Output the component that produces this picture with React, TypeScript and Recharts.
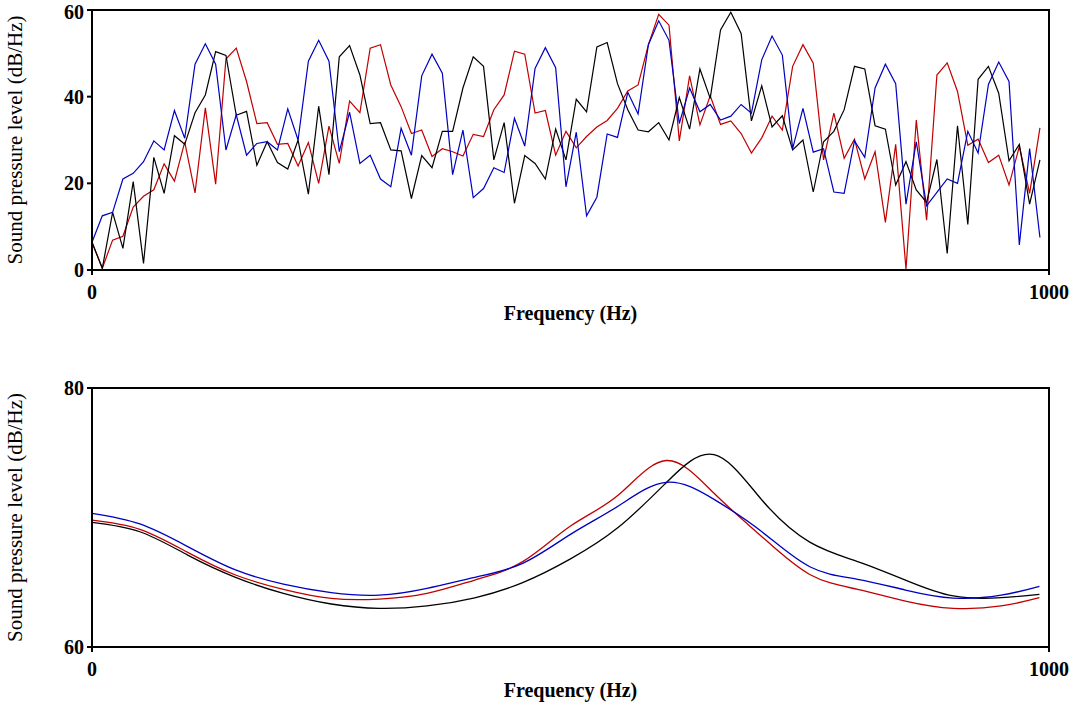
import { LineChart, Line, XAxis, YAxis, ReferenceArea, Label } from 'recharts';

const FONT = '"Liberation Serif", "Times New Roman", serif';
const BLACK = '#000000';
const RED = '#c00000';
const BLUE = '#0000c0';

// FFT bin spacing of the spectra (44.1 kHz / 4096)
const BIN_HZ = 44100 / 4096;

// top panel: raw spectra, one value per bin
const spectrumBlack = [
  6.4, 0.4, 13.3, 5, 20.4, 1.5, 26, 17.7, 31, 29, 36.3, 40.4, 50.4, 49.5, 35.7, 36.6,
  24.2, 29.6, 24.8, 23.3, 30, 17.5, 37.8, 22, 49.2, 51.8, 45, 33.8, 34, 27.7, 27.5,
  16.5, 26.4, 23.6, 32, 32, 42, 49.2, 47, 25.4, 34, 15.4, 26.4, 24.6, 21, 32.5, 25.4,
  39.4, 36.5, 51.5, 52.5, 43, 37, 32.3, 31.9, 34, 30, 39.8, 32.5, 46.4, 39.6, 55.4,
  59.5, 54.6, 34.4, 42.5, 33, 35.6, 27.7, 30, 18, 29.6, 32, 37, 47, 46.4, 33.3, 32.5,
  19.6, 25, 18.5, 15.6, 25.5, 3.8, 33.3, 10.5, 44, 47, 40.8, 25.2, 29, 15.2, 25.4,
];
const spectrumRed = [
  6.4, 0.4, 6.9, 7.8, 14.5, 17, 18.5, 24.5, 20.5, 29.5, 17.8, 37.4, 19.8, 48.7, 51.2, 43.5,
  33.8, 34, 29, 29.2, 24, 29.4, 20, 33.2, 24.6, 39, 36.3, 51.2, 52, 42.7, 37.7,
  31.5, 32.3, 26.2, 28, 27.3, 26.3, 31.3, 30.8, 37, 40.4, 50.5, 49.8, 36.2, 36.8, 26.5, 32,
  28.2, 30.8, 33, 34.5, 37.3, 41.3, 42.7, 52, 59, 56.5, 29.8, 44.8, 33.5, 40.2, 33.6,
  34.4, 31.5, 27, 30.5, 35.5, 32.3, 47, 52, 47.7, 25.4, 36.2, 25.8, 30.2, 21, 27.3, 11,
  29, 0.2, 34.6, 11.5, 45, 47.8, 41.2, 28.8, 30.2, 24.8, 26.5, 19.6, 28.5, 17.7, 32.8,
];
const spectrumBlue = [
  6.4, 12.5, 13.3, 21, 22.3, 25, 29.8, 27.7, 36.8, 30.4, 47.5, 52.2, 47.5, 27.7, 35.8, 26.5,
  29.2, 29.6, 27.7, 37.2, 30, 48.2, 53, 48.2, 27.3, 36.4, 24.6, 26.5, 21, 19.2, 32.7,
  26.5, 44.8, 49.8, 45.4, 22, 32.3, 16.7, 18.8, 23.6, 22.5, 35, 28.6, 46.5, 51.3, 46.7, 19.2,
  31.8, 12.5, 16.8, 31.4, 30.6, 41, 36, 52, 57.5, 53, 33.8, 42, 36.5, 38.2, 34.6,
  35.5, 38.2, 36.2, 48.5, 54, 49.6, 28, 37.3, 27.2, 28, 18, 17.7, 29.8, 26, 42, 47.5,
  43, 15.2, 29.6, 14.8, 17.9, 21, 20, 32, 27, 42.8, 48, 43.5, 5.8, 28, 7.5,
];

// bottom panel: smoothed envelopes, sampled every 50 Hz
const envFreq = [0, 50, 100, 150, 200, 250, 300, 350, 400, 450, 500, 550, 600, 650, 700, 750, 800, 850, 900, 950, 990];
const envBlack = [69.63, 68.9, 67.1, 65.38, 64.14, 63.32, 62.98, 63.17, 63.8, 64.97, 66.8, 69.24, 72.69, 74.85, 71.35, 68.1, 66.6, 65.17, 63.94, 63.81, 64.07];
const envRed = [69.8, 69.09, 67.31, 65.56, 64.45, 63.75, 63.7, 64.14, 65.17, 66.59, 69.34, 71.74, 74.4, 71.87, 68.52, 65.6, 64.45, 63.55, 62.99, 63.17, 63.81];
const envBlue = [70.32, 69.5, 67.75, 65.95, 64.86, 64.2, 64.0, 64.53, 65.38, 66.46, 68.7, 70.89, 72.72, 71.4, 68.9, 66.2, 65.23, 64.4, 63.78, 64.0, 64.69];

const xTicks = [0, 1000];
const topTicks = [0, 20, 40, 60];
const bottomTicks = [60, 80];

const spectrumRows = spectrumBlack.map((v, i) => ({
  f: i * BIN_HZ,
  black: v,
  red: spectrumRed[i],
  blue: spectrumBlue[i],
}));

const envRows = envFreq.map((f, i) => ({
  f,
  black: envBlack[i],
  red: envRed[i],
  blue: envBlue[i],
}));

const tickStyle = { fill: '#000', fontSize: 20, fontWeight: 'bold', fontFamily: FONT };
const axisStroke = { stroke: '#000', strokeWidth: 2 };

interface PanelProps {
  rows: { f: number; black: number; red: number; blue: number }[];
  domain: [number, number];
  ticks: number[];
  height: number;
  marginTop: number;
  marginBottom: number;
  curve: 'linear' | 'natural';
  width: number;
}

function Panel({ rows, domain, ticks, height, marginTop, marginBottom, curve, width }: PanelProps) {
  return (
    <LineChart
      width={1078}
      height={height}
      data={rows}
      margin={{ top: marginTop, right: 29, bottom: marginBottom, left: 0 }}
    >
      <ReferenceArea
        x1={0}
        x2={1000}
        y1={domain[0]}
        y2={domain[1]}
        fill="none"
        stroke="#000"
        strokeWidth={2}
        ifOverflow="visible"
      />
      <XAxis
        dataKey="f"
        type="number"
        domain={[0, 1000]}
        ticks={xTicks}
        axisLine={axisStroke}
        tickLine={axisStroke}
        tickSize={5}
        tickMargin={10}
        tick={tickStyle}
        height={55}
      >
        <Label
          value="Frequency (Hz)"
          position="insideBottom"
          offset={5}
          style={{ fill: '#000', fontSize: 20, fontWeight: 'bold', fontFamily: FONT }}
        />
      </XAxis>
      <YAxis
        type="number"
        domain={domain}
        ticks={ticks}
        axisLine={axisStroke}
        tickLine={axisStroke}
        tickSize={5}
        tickMargin={3}
        tick={tickStyle}
        width={92}
      >
        <Label
          value="Sound pressure level (dB/Hz)"
          angle={-90}
          position="insideLeft"
          offset={15}
          style={{ fill: '#000', fontSize: 21, fontFamily: FONT, textAnchor: 'middle' }}
        />
      </YAxis>
      <Line type={curve} dataKey="red" stroke={RED} strokeWidth={width} dot={false} isAnimationActive={false} />
      <Line type={curve} dataKey="black" stroke={BLACK} strokeWidth={width} dot={false} isAnimationActive={false} />
      <Line type={curve} dataKey="blue" stroke={BLUE} strokeWidth={width} dot={false} isAnimationActive={false} />
    </LineChart>
  );
}

export default function App() {
  return (
    <div style={{ position: 'absolute', left: 0, top: 0, width: 1078, height: 709, background: '#fff' }}>
      <div style={{ position: 'absolute', left: 0, top: 0 }}>
        <Panel
          rows={spectrumRows}
          domain={[0, 60]}
          ticks={topTicks}
          height={325}
          marginTop={10}
          marginBottom={0}
          curve="linear"
          width={1.2}
        />
      </div>
      <div style={{ position: 'absolute', left: 0, top: 370 }}>
        <Panel
          rows={envRows}
          domain={[60, 80]}
          ticks={bottomTicks}
          height={339}
          marginTop={18}
          marginBottom={7}
          curve="natural"
          width={1.3}
        />
      </div>
    </div>
  );
}
